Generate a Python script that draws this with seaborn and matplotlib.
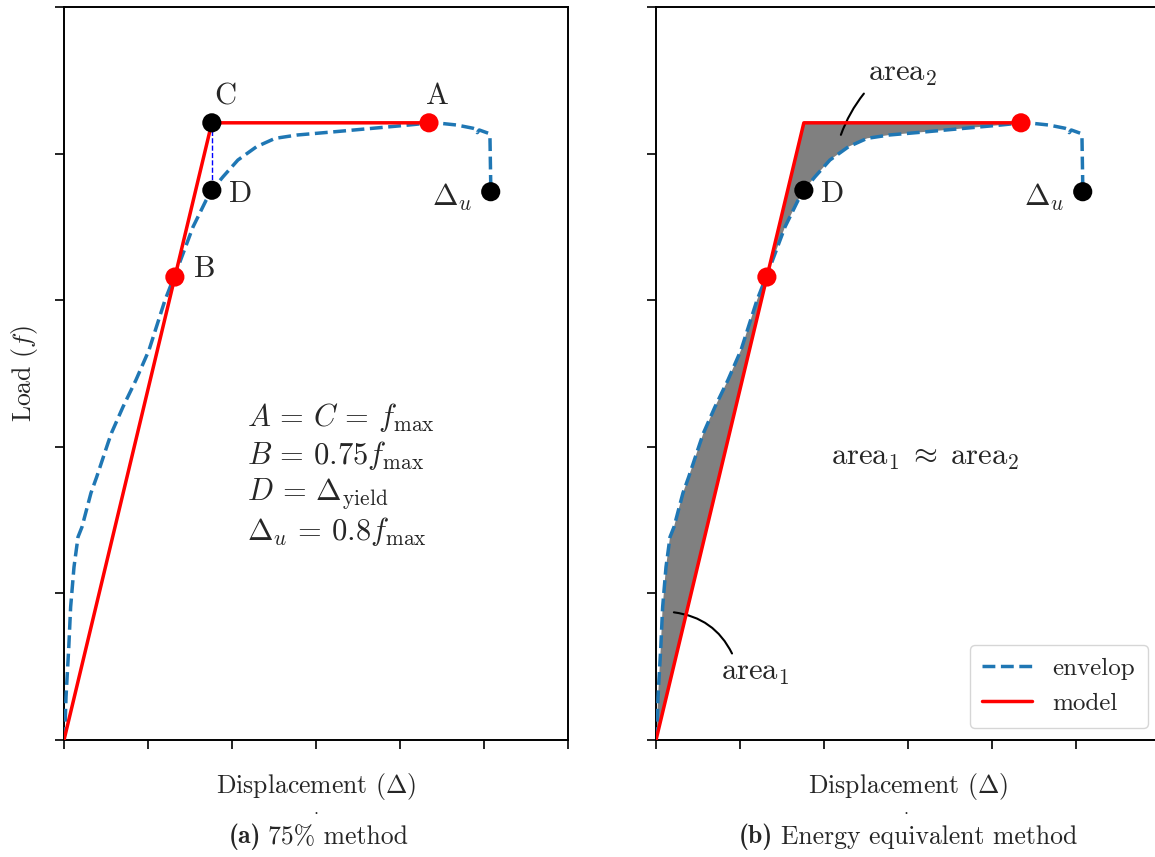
import pandas as pd
import seaborn as sns
import matplotlib.pyplot as plt

sns.set_style("ticks")
plt.rcParams['font.family'] = ['cmr10', 'DejaVu Serif']
plt.rcParams['mathtext.fontset'] = 'cm'
plt.rcParams['axes.formatter.use_mathtext'] = True
plt.rcParams['axes.unicode_minus'] = False

# --- data (x in displacement ticks, y in load ticks) ---
env_x = [0, 0.012, 0.024, 0.057, 0.079, 0.119, 0.167, 0.214, 0.321, 0.389,
         0.524, 0.565, 0.702, 0.857, 1.012, 1.202, 1.357, 1.536, 1.69, 1.76,
         1.893, 2.07, 2.292, 2.513, 2.779, 3.221, 3.663, 4.106, 4.345, 4.476,
         4.675, 4.869, 4.905, 4.92, 4.944, 5.051, 5.071, 5.08, 5.08]
env_y = [0, 0.089, 0.293, 0.634, 0.907, 1.18, 1.385, 1.453, 1.685, 1.794,
         2.026, 2.094, 2.272, 2.456, 2.66, 3.0, 3.226, 3.5, 3.68, 3.75,
         3.842, 3.956, 4.047, 4.104, 4.127, 4.149, 4.172, 4.195, 4.209, 4.207,
         4.195, 4.173, 4.166, 4.143, 4.161, 4.139, 4.115, 3.80, 3.74]
model_x = [0, 1.76, 4.345]
model_y = [0, 4.21, 4.21]

red_pts_x = [4.345, 1.32]      # A, B
red_pts_y = [4.21, 3.158]
blk_left_x = [1.76, 1.76, 5.08]  # C, D, delta_u
blk_left_y = [4.21, 3.75, 3.74]
blk_right_x = [1.76, 5.08]       # D, delta_u
blk_right_y = [3.75, 3.74]

x_ticks = [0, 1, 2, 3, 4, 5, 6]
y_ticks = [0, 1, 2, 3, 4, 5]

env = pd.DataFrame({'disp': env_x, 'load': env_y})
model = pd.DataFrame({'disp': model_x, 'load': model_y})

BLUE = '#1f77b4'
W, H = 1155, 857
fig = plt.figure(figsize=(W / 100, H / 100), dpi=100)
ax1 = fig.add_axes([0.05541, 0.13652, 0.43636, 0.85531])
ax2 = fig.add_axes([0.56797, 0.13652, 0.43636, 0.85531])


def draw_base(ax, blk_x, blk_y):
    sns.lineplot(data=env, x='disp', y='load', sort=False, estimator=None, ax=ax,
                 color=BLUE, lw=2.5, linestyle='--', label='envelop', zorder=3)
    sns.lineplot(data=model, x='disp', y='load', sort=False, estimator=None, ax=ax,
                 color='red', lw=2.5, label='model', zorder=4)
    sns.scatterplot(x=red_pts_x, y=red_pts_y, ax=ax, color='red', s=190,
                    edgecolor='none', zorder=6)
    sns.scatterplot(x=blk_x, y=blk_y, ax=ax, color='black', s=190,
                    edgecolor='none', zorder=6)
    ax.set_xlim(0, 6)
    ax.set_ylim(0, 5)
    ax.set_xticks(x_ticks)
    ax.set_yticks(y_ticks)
    ax.set_xticklabels([])
    ax.set_yticklabels([])
    ax.tick_params(length=6.5, width=1.2, color='black')
    for sp in ax.spines.values():
        sp.set_linewidth(1.4)
        sp.set_color('black')
    ax.set_xlabel(r'Displacement ($\Delta$)', fontsize=18.5, labelpad=12)
    ax.set_ylabel('')
    if ax.get_legend() is not None:
        ax.get_legend().remove()
    ax.text(2.1, 3.72, 'D', fontsize=22, ha='center', va='center')
    ax.text(4.62, 3.70, r'$\Delta_u$', fontsize=22, ha='center', va='center')


# (a) 75% method
draw_base(ax1, blk_left_x, blk_left_y)
ax1.plot([1.76, 1.76], [4.21, 3.75], color='blue', lw=1, linestyle='--', zorder=5)
ax1.text(1.917, 4.39, 'C', fontsize=22, ha='center', va='center')
ax1.text(4.45, 4.39, 'A', fontsize=22, ha='center', va='center')
ax1.text(1.68, 3.21, 'B', fontsize=22, ha='center', va='center')
ax1.text(2.18, 1.81,
         '$A\\,=\\,C\\,=\\,f_{\\max}$\n$B\\,=\\,0.75f_{\\max}$\n'
         '$D\\,=\\,\\Delta_{\\mathrm{yield}}$\n$\\Delta_u\\,=\\,0.8f_{\\max}$',
         fontsize=22, ha='left', va='center', linespacing=1.17)
ax1.set_ylabel(r'Load ($f$)', fontsize=18.5, labelpad=7)

# (b) energy equivalent method
draw_base(ax2, blk_right_x, blk_right_y)
k = env_x.index(4.345)
poly_x = env_x[:k + 1] + model_x[::-1][1:]
poly_y = env_y[:k + 1] + model_y[::-1][1:]
ax2.fill(poly_x, poly_y, color='gray', zorder=2, lw=0)
ax2.annotate(r'area$_2$', xy=(2.19, 4.11), xytext=(2.94, 4.54), fontsize=22,
             ha='center', va='center',
             arrowprops=dict(arrowstyle='-', lw=1.5, color='black', relpos=(0, 0),
                             connectionstyle='arc3,rad=0.1'))
ax2.annotate(r'area$_1$', xy=(0.18, 0.873), xytext=(1.18, 0.457), fontsize=22,
             ha='center', va='center',
             arrowprops=dict(arrowstyle='-', lw=1.5, color='black', relpos=(0.2, 1),
                             connectionstyle='arc3,rad=0.3'))
ax2.text(3.2, 1.92, r'$\mathrm{area}_1\;\approx\;\mathrm{area}_2$', fontsize=22,
         ha='center', va='center')
ax2.legend(loc='lower right', fontsize=18, frameon=True, borderpad=0.5)

# sub captions under each panel: bold tag + plain text
fig.text(316 / W, 1 - 814 / H, '.', fontsize=13, ha='center', va='baseline')
fig.text(906 / W, 1 - 814 / H, '.', fontsize=13, ha='center', va='baseline')
cap_y = 1 - 837 / H
fig.text(261 / W, cap_y, '(a)', family='cmb10', fontsize=18.5, ha='right', va='center')
fig.text(268 / W, cap_y, '75% method', fontsize=18.5, ha='left', va='center')
fig.text(773 / W, cap_y, '(b)', family='cmb10', fontsize=18.5, ha='right', va='center')
fig.text(781 / W, cap_y, 'Energy equivalent method', fontsize=18.5, ha='left',
         va='center')

fig.savefig('out.png', dpi=100)
